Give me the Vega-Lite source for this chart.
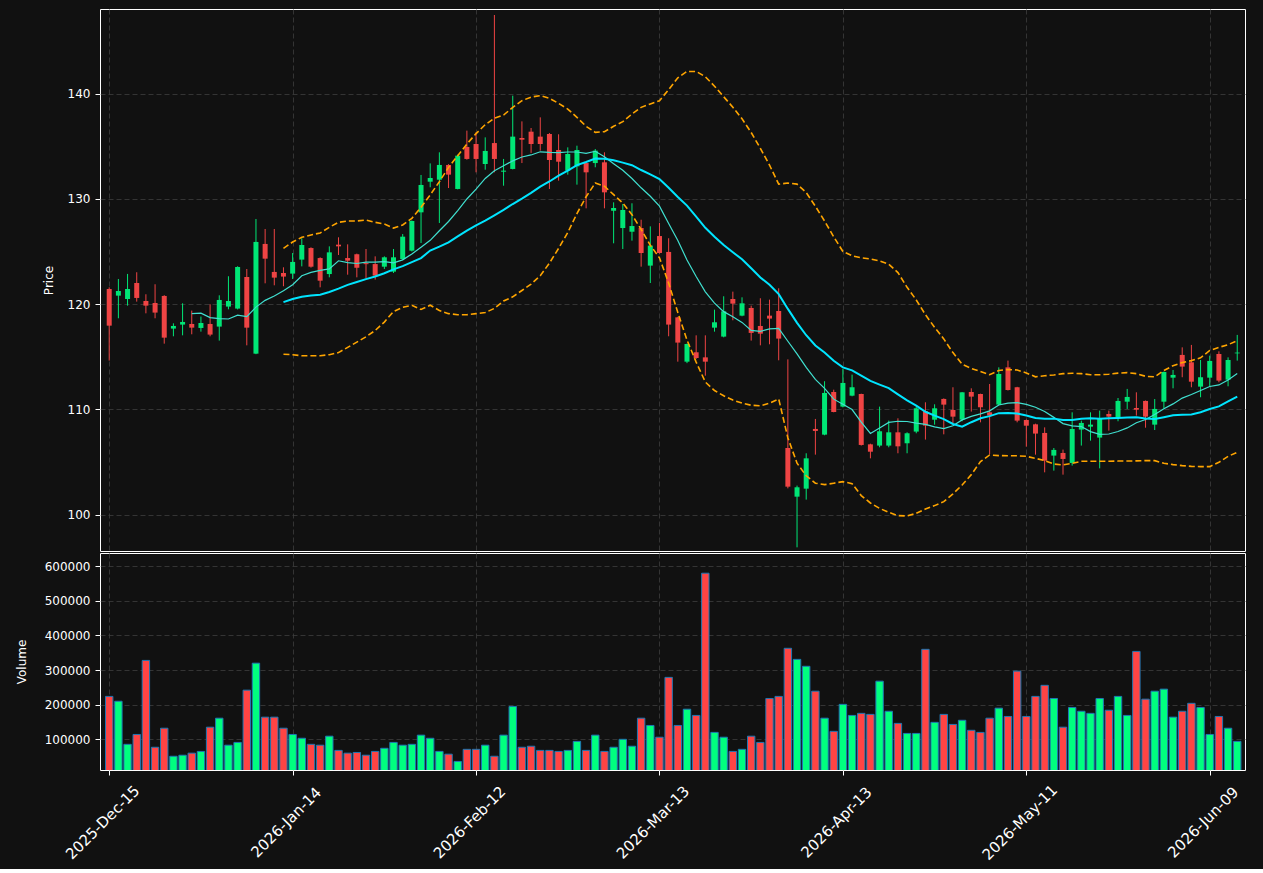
{
"$schema": "https://vega.github.io/schema/vega-lite/v6.json",
"background": "#111111",
"padding": {"left": 14, "top": 8, "right": 17, "bottom": 5},
"datasets": {"d": [
{"i":0,"o":121.44,"h":121.6,"l":114.64,"c":117.96,"v":224000,"ma10":null,"ma20":null,"bbu":null,"bbl":null},
{"i":1,"o":120.81,"h":122.39,"l":118.66,"c":121.25,"v":210000,"ma10":null,"ma20":null,"bbu":null,"bbl":null},
{"i":2,"o":120.49,"h":122.87,"l":119.86,"c":121.44,"v":85500,"ma10":null,"ma20":null,"bbu":null,"bbl":null},
{"i":3,"o":122.01,"h":123.03,"l":120.24,"c":120.59,"v":114000,"ma10":null,"ma20":null,"bbu":null,"bbl":null},
{"i":4,"o":120.30,"h":120.94,"l":119.13,"c":119.86,"v":328000,"ma10":null,"ma20":null,"bbu":null,"bbl":null},
{"i":5,"o":120.11,"h":121.89,"l":118.66,"c":119.20,"v":77000,"ma10":null,"ma20":null,"bbu":null,"bbl":null},
{"i":6,"o":120.78,"h":120.85,"l":116.25,"c":116.82,"v":132000,"ma10":null,"ma20":null,"bbu":null,"bbl":null},
{"i":7,"o":117.68,"h":118.18,"l":116.95,"c":117.93,"v":51000,"ma10":null,"ma20":null,"bbu":null,"bbl":null},
{"i":8,"o":118.06,"h":120.08,"l":117.04,"c":118.31,"v":54000,"ma10":null,"ma20":null,"bbu":null,"bbl":null},
{"i":9,"o":118.12,"h":119.39,"l":117.14,"c":117.77,"v":60000,"ma10":119.11,"ma20":null,"bbu":null,"bbl":null},
{"i":10,"o":117.74,"h":118.82,"l":117.39,"c":118.21,"v":65000,"ma10":119.14,"ma20":null,"bbu":null,"bbl":null},
{"i":11,"o":118.12,"h":119.99,"l":116.95,"c":117.11,"v":135000,"ma10":118.72,"ma20":null,"bbu":null,"bbl":null},
{"i":12,"o":117.87,"h":120.84,"l":116.54,"c":120.40,"v":161000,"ma10":118.62,"ma20":null,"bbu":null,"bbl":null},
{"i":13,"o":119.77,"h":122.65,"l":119.51,"c":120.30,"v":83000,"ma10":118.59,"ma20":null,"bbu":null,"bbl":null},
{"i":14,"o":119.58,"h":123.6,"l":119.5,"c":123.53,"v":91000,"ma10":118.96,"ma20":null,"bbu":null,"bbl":null},
{"i":15,"o":122.58,"h":123.34,"l":116.09,"c":117.77,"v":242000,"ma10":118.82,"ma20":null,"bbu":null,"bbl":null},
{"i":16,"o":115.30,"h":128.09,"l":115.25,"c":125.91,"v":320000,"ma10":119.72,"ma20":null,"bbu":null,"bbl":null},
{"i":17,"o":125.72,"h":127.14,"l":121.98,"c":124.32,"v":164000,"ma10":120.36,"ma20":null,"bbu":null,"bbl":null},
{"i":18,"o":123.06,"h":127.14,"l":121.79,"c":122.52,"v":164000,"ma10":120.78,"ma20":null,"bbu":null,"bbl":null},
{"i":19,"o":122.96,"h":123.50,"l":121.70,"c":122.62,"v":132000,"ma10":121.27,"ma20":120.19,"bbu":125.3,"bbl":115.25},
{"i":20,"o":122.90,"h":124.86,"l":122.39,"c":124.01,"v":114000,"ma10":121.85,"ma20":120.49,"bbu":125.9,"bbl":115.2},
{"i":21,"o":124.23,"h":126.25,"l":123.59,"c":125.62,"v":103000,"ma10":122.70,"ma20":120.71,"bbu":126.35,"bbl":115.1},
{"i":22,"o":125.33,"h":125.4,"l":123.47,"c":123.56,"v":85500,"ma10":123.02,"ma20":120.82,"bbu":126.57,"bbl":115.1},
{"i":23,"o":124.38,"h":124.45,"l":121.60,"c":122.23,"v":83000,"ma10":123.21,"ma20":120.90,"bbu":126.76,"bbl":115.1},
{"i":24,"o":122.86,"h":125.49,"l":122.55,"c":124.92,"v":109000,"ma10":123.35,"ma20":121.15,"bbu":127.3,"bbl":115.2},
{"i":25,"o":125.65,"h":126.35,"l":124.67,"c":125.49,"v":68000,"ma10":124.12,"ma20":121.47,"bbu":127.77,"bbl":115.4},
{"i":26,"o":124.38,"h":125.68,"l":122.80,"c":124.13,"v":60000,"ma10":123.94,"ma20":121.83,"bbu":127.9,"bbl":115.9},
{"i":27,"o":124.73,"h":124.8,"l":122.55,"c":123.47,"v":62000,"ma10":123.86,"ma20":122.11,"bbu":127.9,"bbl":116.4},
{"i":28,"o":123.9,"h":125.24,"l":122.45,"c":123.8,"v":54000,"ma10":123.99,"ma20":122.38,"bbu":127.99,"bbl":116.9},
{"i":29,"o":123.81,"h":124.54,"l":122.33,"c":122.71,"v":65000,"ma10":123.99,"ma20":122.63,"bbu":127.77,"bbl":117.5},
{"i":30,"o":123.56,"h":124.54,"l":123.34,"c":124.45,"v":74000,"ma10":124.04,"ma20":122.94,"bbu":127.61,"bbl":118.3},
{"i":31,"o":123.09,"h":125.24,"l":122.96,"c":124.45,"v":91000,"ma10":123.92,"ma20":123.31,"bbu":127.23,"bbl":119.3},
{"i":32,"o":124.29,"h":126.66,"l":124.2,"c":126.41,"v":83000,"ma10":124.21,"ma20":123.61,"bbu":127.52,"bbl":119.7},
{"i":33,"o":125.08,"h":127.95,"l":125.0,"c":127.90,"v":85500,"ma10":124.77,"ma20":123.99,"bbu":128.15,"bbl":119.9},
{"i":34,"o":128.72,"h":132.27,"l":125.81,"c":131.32,"v":112000,"ma10":125.41,"ma20":124.38,"bbu":129.2,"bbl":119.5},
{"i":35,"o":131.63,"h":133.37,"l":131.10,"c":131.98,"v":103000,"ma10":126.06,"ma20":125.09,"bbu":130.37,"bbl":119.9},
{"i":36,"o":131.82,"h":134.42,"l":127.71,"c":133.22,"v":65000,"ma10":126.97,"ma20":125.46,"bbu":131.63,"bbl":119.4},
{"i":37,"o":133.22,"h":133.3,"l":131.03,"c":132.30,"v":57000,"ma10":127.85,"ma20":125.86,"bbu":132.99,"bbl":119.1},
{"i":38,"o":130.94,"h":134.2,"l":130.9,"c":134.10,"v":36000,"ma10":128.88,"ma20":126.43,"bbu":134.10,"bbl":119.0},
{"i":39,"o":134.93,"h":136.48,"l":133.72,"c":133.79,"v":71000,"ma10":129.99,"ma20":126.99,"bbu":135.21,"bbl":119.0},
{"i":40,"o":135.21,"h":136.32,"l":132.52,"c":133.79,"v":71000,"ma10":130.93,"ma20":127.48,"bbu":136.2,"bbl":119.1},
{"i":41,"o":133.31,"h":135.84,"l":132.77,"c":134.55,"v":83000,"ma10":131.94,"ma20":127.93,"bbu":137.05,"bbl":119.2},
{"i":42,"o":135.30,"h":147.46,"l":132.52,"c":133.79,"v":51000,"ma10":132.67,"ma20":128.44,"bbu":137.65,"bbl":119.6},
{"i":43,"o":132.58,"h":133.79,"l":131.25,"c":132.68,"v":112000,"ma10":133.15,"ma20":128.96,"bbu":137.96,"bbl":120.3},
{"i":44,"o":132.84,"h":139.80,"l":132.8,"c":135.91,"v":195000,"ma10":133.61,"ma20":129.51,"bbu":138.69,"bbl":120.7},
{"i":45,"o":135.78,"h":137.36,"l":133.40,"c":135.62,"v":77000,"ma10":133.98,"ma20":130.02,"bbu":139.32,"bbl":121.3},
{"i":46,"o":136.38,"h":136.73,"l":134.36,"c":135.21,"v":80000,"ma10":134.17,"ma20":130.57,"bbu":139.67,"bbl":121.9},
{"i":47,"o":135.91,"h":137.74,"l":134.58,"c":135.21,"v":68000,"ma10":134.47,"ma20":131.16,"bbu":139.80,"bbl":122.7},
{"i":48,"o":136.16,"h":136.25,"l":130.94,"c":133.69,"v":68000,"ma10":134.42,"ma20":131.65,"bbu":139.55,"bbl":123.9},
{"i":49,"o":134.64,"h":136.13,"l":131.73,"c":133.53,"v":65000,"ma10":134.40,"ma20":132.20,"bbu":139.07,"bbl":125.3},
{"i":50,"o":132.68,"h":134.89,"l":132.30,"c":134.26,"v":68000,"ma10":134.45,"ma20":132.69,"bbu":138.53,"bbl":126.8},
{"i":51,"o":133.09,"h":135.05,"l":131.35,"c":134.64,"v":94000,"ma10":134.45,"ma20":133.20,"bbu":137.74,"bbl":128.6},
{"i":52,"o":133.40,"h":133.45,"l":129.10,"c":132.52,"v":68000,"ma10":134.33,"ma20":133.50,"bbu":136.89,"bbl":130.2},
{"i":53,"o":133.40,"h":134.73,"l":133.0,"c":134.58,"v":112000,"ma10":134.52,"ma20":133.83,"bbu":136.32,"bbl":131.5},
{"i":54,"o":133.47,"h":134.42,"l":129.10,"c":130.62,"v":65000,"ma10":133.99,"ma20":133.80,"bbu":136.38,"bbl":131.2},
{"i":55,"o":128.88,"h":129.67,"l":125.78,"c":129.13,"v":77000,"ma10":133.34,"ma20":133.66,"bbu":136.89,"bbl":130.4},
{"i":56,"o":127.23,"h":129.51,"l":125.24,"c":128.94,"v":100000,"ma10":132.71,"ma20":133.44,"bbu":137.33,"bbl":129.6},
{"i":57,"o":126.88,"h":129.58,"l":126.03,"c":127.42,"v":80000,"ma10":131.93,"ma20":133.20,"bbu":138.06,"bbl":128.5},
{"i":58,"o":127.23,"h":128.02,"l":123.56,"c":124.86,"v":161000,"ma10":131.05,"ma20":132.74,"bbu":138.69,"bbl":127.1},
{"i":59,"o":123.66,"h":127.39,"l":122.01,"c":125.56,"v":140000,"ma10":130.25,"ma20":132.33,"bbu":139.01,"bbl":125.6},
{"i":60,"o":126.47,"h":127.71,"l":124.8,"c":124.86,"v":106000,"ma10":129.31,"ma20":131.88,"bbu":139.32,"bbl":124.4},
{"i":61,"o":124.96,"h":126.26,"l":116.95,"c":118.06,"v":279000,"ma10":127.66,"ma20":131.05,"bbu":140.37,"bbl":122.0},
{"i":62,"o":118.75,"h":118.8,"l":114.54,"c":116.35,"v":140000,"ma10":126.04,"ma20":130.18,"bbu":141.5,"bbl":119.2},
{"i":63,"o":114.54,"h":116.25,"l":114.4,"c":116.22,"v":187000,"ma10":124.20,"ma20":129.36,"bbu":142.1,"bbl":116.6},
{"i":64,"o":115.43,"h":117.04,"l":114.8,"c":114.89,"v":169000,"ma10":122.63,"ma20":128.31,"bbu":142.1,"bbl":114.5},
{"i":65,"o":114.95,"h":117.04,"l":113.21,"c":114.54,"v":580000,"ma10":121.17,"ma20":127.25,"bbu":141.6,"bbl":112.6},
{"i":66,"o":117.77,"h":119.48,"l":117.39,"c":118.28,"v":120000,"ma10":120.10,"ma20":126.41,"bbu":140.7,"bbl":111.8},
{"i":67,"o":116.92,"h":120.75,"l":116.85,"c":119.32,"v":106000,"ma10":119.29,"ma20":125.61,"bbu":139.7,"bbl":111.3},
{"i":68,"o":120.49,"h":121.19,"l":118.47,"c":120.05,"v":65000,"ma10":118.81,"ma20":124.93,"bbu":138.7,"bbl":110.9},
{"i":69,"o":118.91,"h":120.65,"l":118.85,"c":120.08,"v":71000,"ma10":118.27,"ma20":124.26,"bbu":137.6,"bbl":110.6},
{"i":70,"o":119.64,"h":119.86,"l":116.54,"c":117.27,"v":109000,"ma10":117.51,"ma20":123.41,"bbu":136.3,"bbl":110.4},
{"i":71,"o":117.93,"h":120.56,"l":116.09,"c":117.20,"v":91000,"ma10":117.42,"ma20":122.54,"bbu":134.8,"bbl":110.35},
{"i":72,"o":118.91,"h":120.43,"l":116.19,"c":118.63,"v":218000,"ma10":117.65,"ma20":121.84,"bbu":133.2,"bbl":110.6},
{"i":73,"o":119.35,"h":121.51,"l":114.67,"c":116.73,"v":224000,"ma10":117.70,"ma20":120.95,"bbu":131.4,"bbl":111.0},
{"i":74,"o":106.34,"h":114.76,"l":102.51,"c":102.67,"v":363000,"ma10":116.48,"ma20":119.55,"bbu":131.5,"bbl":107.3},
{"i":75,"o":101.72,"h":102.77,"l":96.91,"c":102.61,"v":331000,"ma10":115.28,"ma20":118.23,"bbu":131.4,"bbl":104.9},
{"i":76,"o":102.48,"h":105.84,"l":101.44,"c":105.36,"v":311000,"ma10":113.99,"ma20":117.05,"bbu":130.6,"bbl":103.7},
{"i":77,"o":108.15,"h":109.1,"l":105.71,"c":107.96,"v":239000,"ma10":112.86,"ma20":116.08,"bbu":129.3,"bbl":103.0},
{"i":78,"o":107.61,"h":112.68,"l":107.55,"c":111.57,"v":161000,"ma10":112.01,"ma20":115.41,"bbu":127.9,"bbl":102.86},
{"i":79,"o":111.66,"h":111.88,"l":109.73,"c":109.76,"v":123000,"ma10":110.98,"ma20":114.62,"bbu":126.4,"bbl":103.0},
{"i":80,"o":110.27,"h":113.85,"l":110.2,"c":112.52,"v":201000,"ma10":110.50,"ma20":114.00,"bbu":125.0,"bbl":103.15},
{"i":81,"o":111.31,"h":113.31,"l":111.25,"c":112.11,"v":169000,"ma10":109.99,"ma20":113.71,"bbu":124.6,"bbl":102.96},
{"i":82,"o":111.47,"h":111.5,"l":106.57,"c":106.63,"v":175000,"ma10":108.79,"ma20":113.22,"bbu":124.4,"bbl":101.82},
{"i":83,"o":106.69,"h":106.75,"l":105.36,"c":105.99,"v":172000,"ma10":107.72,"ma20":112.71,"bbu":124.3,"bbl":101.12},
{"i":84,"o":106.57,"h":110.27,"l":106.41,"c":107.93,"v":268000,"ma10":108.24,"ma20":112.36,"bbu":124.1,"bbl":100.61},
{"i":85,"o":106.57,"h":108.94,"l":106.41,"c":107.83,"v":181000,"ma10":108.77,"ma20":112.03,"bbu":123.8,"bbl":100.23},
{"i":86,"o":107.83,"h":109.16,"l":105.84,"c":106.50,"v":146000,"ma10":108.88,"ma20":111.44,"bbu":123.0,"bbl":99.92},
{"i":87,"o":106.79,"h":107.83,"l":105.84,"c":107.74,"v":117000,"ma10":108.86,"ma20":110.86,"bbu":121.6,"bbl":99.89},
{"i":88,"o":107.9,"h":110.30,"l":107.74,"c":110.11,"v":117000,"ma10":108.71,"ma20":110.36,"bbu":120.4,"bbl":100.14},
{"i":89,"o":109.83,"h":110.68,"l":107.14,"c":108.47,"v":360000,"ma10":108.58,"ma20":109.78,"bbu":119.0,"bbl":100.55},
{"i":90,"o":109.03,"h":110.49,"l":108.56,"c":110.11,"v":149000,"ma10":108.34,"ma20":109.42,"bbu":117.8,"bbl":100.87},
{"i":91,"o":111.0,"h":111.05,"l":107.64,"c":110.46,"v":172000,"ma10":108.18,"ma20":109.08,"bbu":116.7,"bbl":101.25},
{"i":92,"o":109.95,"h":112.11,"l":108.69,"c":109.32,"v":143000,"ma10":108.45,"ma20":108.62,"bbu":115.4,"bbl":101.98},
{"i":93,"o":109.03,"h":111.65,"l":108.88,"c":111.63,"v":155000,"ma10":109.01,"ma20":108.36,"bbu":114.3,"bbl":102.83},
{"i":94,"o":111.66,"h":112.01,"l":109.80,"c":111.22,"v":126000,"ma10":109.34,"ma20":108.79,"bbu":113.9,"bbl":103.81},
{"i":95,"o":111.47,"h":111.5,"l":108.78,"c":110.21,"v":120000,"ma10":109.58,"ma20":109.17,"bbu":113.6,"bbl":105.05},
{"i":96,"o":109.73,"h":112.42,"l":105.77,"c":109.42,"v":161000,"ma10":109.87,"ma20":109.37,"bbu":113.3,"bbl":105.68},
{"i":97,"o":110.46,"h":114.0,"l":110.4,"c":113.37,"v":190000,"ma10":110.43,"ma20":109.65,"bbu":113.7,"bbl":105.62},
{"i":98,"o":114.0,"h":114.64,"l":111.8,"c":111.85,"v":166000,"ma10":110.61,"ma20":109.66,"bbu":113.8,"bbl":105.6},
{"i":99,"o":112.11,"h":112.15,"l":108.78,"c":108.94,"v":297000,"ma10":110.65,"ma20":109.62,"bbu":113.75,"bbl":105.6},
{"i":100,"o":109.0,"h":109.05,"l":106.47,"c":108.46,"v":166000,"ma10":110.49,"ma20":109.42,"bbu":113.47,"bbl":105.55},
{"i":101,"o":108.59,"h":108.65,"l":105.71,"c":107.71,"v":224000,"ma10":110.21,"ma20":109.20,"bbu":113.1,"bbl":105.36},
{"i":102,"o":107.77,"h":108.30,"l":104.03,"c":105.14,"v":256000,"ma10":109.80,"ma20":109.12,"bbu":113.2,"bbl":105.14},
{"i":103,"o":105.62,"h":106.34,"l":104.19,"c":106.16,"v":218000,"ma10":109.25,"ma20":109.13,"bbu":113.28,"bbl":104.82},
{"i":104,"o":105.87,"h":106.19,"l":103.81,"c":105.30,"v":135000,"ma10":108.66,"ma20":109.00,"bbu":113.4,"bbl":104.73},
{"i":105,"o":104.92,"h":109.73,"l":104.67,"c":108.15,"v":192000,"ma10":108.45,"ma20":109.01,"bbu":113.44,"bbl":104.89},
{"i":106,"o":108.09,"h":108.94,"l":106.57,"c":108.72,"v":181000,"ma10":108.38,"ma20":109.12,"bbu":113.4,"bbl":105.08},
{"i":107,"o":108.37,"h":109.73,"l":107.04,"c":108.56,"v":175000,"ma10":107.90,"ma20":109.17,"bbu":113.3,"bbl":105.08},
{"i":108,"o":107.33,"h":109.89,"l":104.41,"c":109.19,"v":218000,"ma10":107.63,"ma20":109.12,"bbu":113.3,"bbl":105.08},
{"i":109,"o":109.57,"h":109.89,"l":107.99,"c":109.32,"v":184000,"ma10":107.67,"ma20":109.16,"bbu":113.35,"bbl":105.08},
{"i":110,"o":109.26,"h":111.09,"l":108.88,"c":110.81,"v":224000,"ma10":107.91,"ma20":109.20,"bbu":113.45,"bbl":105.1},
{"i":111,"o":110.74,"h":111.95,"l":110.05,"c":111.19,"v":169000,"ma10":108.25,"ma20":109.23,"bbu":113.5,"bbl":105.1},
{"i":112,"o":110.14,"h":111.63,"l":109.42,"c":109.98,"v":354000,"ma10":108.74,"ma20":109.27,"bbu":113.4,"bbl":105.12},
{"i":113,"o":110.81,"h":110.85,"l":108.27,"c":109.32,"v":216000,"ma10":109.05,"ma20":109.15,"bbu":113.15,"bbl":105.15},
{"i":114,"o":108.56,"h":110.99,"l":108.05,"c":110.05,"v":239000,"ma10":109.53,"ma20":109.09,"bbu":113.1,"bbl":105.14},
{"i":115,"o":110.74,"h":113.6,"l":110.11,"c":113.56,"v":245000,"ma10":110.07,"ma20":109.26,"bbu":113.7,"bbl":104.89},
{"i":116,"o":113.02,"h":113.75,"l":112.01,"c":113.28,"v":164000,"ma10":110.53,"ma20":109.45,"bbu":114.16,"bbl":104.76},
{"i":117,"o":115.18,"h":115.90,"l":113.06,"c":114.07,"v":181000,"ma10":111.08,"ma20":109.49,"bbu":114.45,"bbl":104.67},
{"i":118,"o":114.48,"h":116.13,"l":112.11,"c":112.64,"v":204000,"ma10":111.42,"ma20":109.53,"bbu":114.64,"bbl":104.6},
{"i":119,"o":112.17,"h":114.70,"l":111.16,"c":113.06,"v":192000,"ma10":111.80,"ma20":109.73,"bbu":114.9,"bbl":104.57},
{"i":120,"o":113.02,"h":115.11,"l":112.20,"c":114.61,"v":114000,"ma10":112.18,"ma20":110.04,"bbu":115.6,"bbl":104.57},
{"i":121,"o":115.27,"h":115.52,"l":112.58,"c":112.74,"v":166000,"ma10":112.33,"ma20":110.29,"bbu":115.9,"bbl":104.98},
{"i":122,"o":112.83,"h":114.95,"l":112.20,"c":114.70,"v":132000,"ma10":112.80,"ma20":110.77,"bbu":116.15,"bbl":105.55},
{"i":123,"o":115.33,"h":117.08,"l":114.64,"c":115.40,"v":94000,"ma10":113.41,"ma20":111.23,"bbu":116.54,"bbl":105.93}
]},
"data": {"name": "d"},
"spacing": 0,
"vconcat": [
{
"width": 1145,
"height": 542,
"encoding": {
"x": {"field": "i", "type": "quantitative", "scale": {"domain": [-0.46, 123.3], "nice": false, "zero": false},
"axis": {"values": [0,20,40,60,80,100,120], "labels": false, "ticks": false, "domain": false, "title": null, "grid": true}}
},
"layer": [
{"mark": {"type": "rule", "strokeWidth": 1},
"encoding": {
"y": {"field": "l", "type": "quantitative", "scale": {"domain": [96.56, 148.03], "nice": false, "zero": false},
"axis": {"values": [100,110,120,130,140], "title": "Price", "titlePadding": 12, "domain": false, "grid": true}},
"y2": {"field": "h"},
"color": {"condition": {"test": "datum.c >= datum.o", "value": "#00e676"}, "value": "#ef4444"}
}},
{"mark": {"type": "bar", "size": 5},
"encoding": {
"y": {"field": "o", "type": "quantitative"},
"y2": {"field": "c"},
"color": {"condition": {"test": "datum.c >= datum.o", "value": "#00e676"}, "value": "#ef4444"}
}},
{"mark": {"type": "line", "stroke": "#40e0d0", "strokeWidth": 1.2},
"encoding": {"y": {"field": "ma10", "type": "quantitative"}}},
{"mark": {"type": "line", "stroke": "#00e5ff", "strokeWidth": 2},
"encoding": {"y": {"field": "ma20", "type": "quantitative"}}},
{"mark": {"type": "line", "stroke": "#ffa500", "strokeWidth": 1.6, "strokeDash": [6, 3]},
"encoding": {"y": {"field": "bbu", "type": "quantitative"}}},
{"mark": {"type": "line", "stroke": "#ffa500", "strokeWidth": 1.6, "strokeDash": [6, 3]},
"encoding": {"y": {"field": "bbl", "type": "quantitative"}}}
]
},
{
"width": 1145,
"height": 217,
"mark": {"type": "bar", "size": 7.4, "stroke": "#1f77b4", "strokeWidth": 1, "clip": true},
"encoding": {
"x": {"field": "i", "type": "quantitative", "scale": {"domain": [-0.46, 123.3], "nice": false, "zero": false},
"axis": {"values": [0,20,40,60,80,100,120], "title": null, "grid": true, "domain": false, "labelAngle": -45, "labelAlign": "center", "labelBaseline": "middle", "labelPadding": 47, "labelFontSize": 15, "labelOffset": -7,
"labelExpr": "['2025-Dec-15','2026-Jan-14','2026-Feb-12','2026-Mar-13','2026-Apr-13','2026-May-11','2026-Jun-09'][round(datum.value/20)]"}},
"y": {"field": "v", "type": "quantitative", "scale": {"domain": [11300, 638400], "nice": false, "zero": false},
"axis": {"values": [100000,200000,300000,400000,500000,600000], "format": "d", "title": "Volume", "titlePadding": 16, "domain": false, "grid": true}},
"color": {"condition": {"test": "datum.c >= datum.o", "value": "#00ff7f"}, "value": "#ff4444"}
}
}
],
"config": {
"view": {"stroke": "#ffffff", "strokeWidth": 1},
"axis": {"labelColor": "#ffffff", "titleColor": "#ffffff", "tickColor": "#ffffff", "domainColor": "#ffffff",
"gridColor": "#3d3d3d", "gridDash": [5, 3], "gridWidth": 0.8,
"labelFont": "DejaVu Sans", "titleFont": "DejaVu Sans", "labelFontSize": 12, "titleFontSize": 12, "titleFontWeight": "normal",
"tickSize": 5, "labelPadding": 5}
}
}
